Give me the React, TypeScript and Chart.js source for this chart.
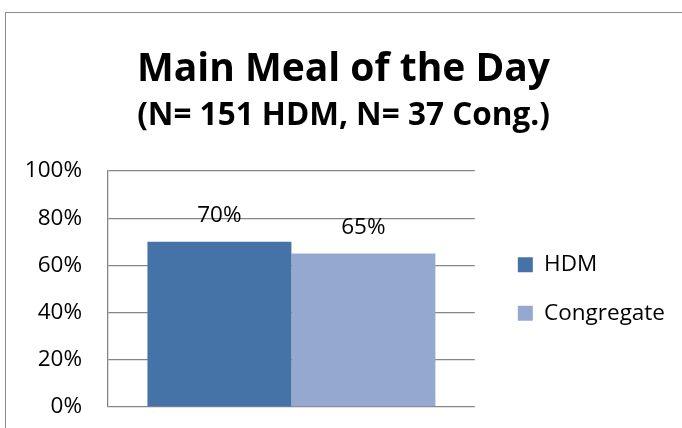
import React, { useEffect, useRef } from "react";
import { Chart, registerables } from "chart.js";

Chart.register(...registerables);

const categories = [""];
const seriesNames = ["HDM", "Congregate"];
const hdmValues = [0.70];
const congregateValues = [0.65];
const seriesColors = ["#4572A7", "#95A9D0"];
const yTicks = [0, 0.2, 0.4, 0.6, 0.8, 1.0];
const titleText = "Main Meal of the Day";
const subtitleText = "(N= 151 HDM, N= 37 Cong.)";

const FONT = "'Open Sans', 'Noto Sans', sans-serif";

const dataLabelPlugin = {
  id: "dataLabels",
  afterDatasetsDraw(chart: any) {
    const ctx = chart.ctx;
    ctx.save();
    ctx.font = `22.5px ${FONT}`;
    ctx.fillStyle = "#000";
    ctx.textAlign = "center";
    ctx.textBaseline = "middle";
    chart.data.datasets.forEach((ds: any, i: number) => {
      const meta = chart.getDatasetMeta(i);
      meta.data.forEach((bar: any, j: number) => {
        const v = ds.data[j];
        ctx.fillText(Math.round(v * 100) + "%", bar.x, bar.y - 26.5);
      });
    });
    ctx.restore();
  },
};

export default function App() {
  const ref = useRef<HTMLCanvasElement>(null);
  useEffect(() => {
    if (!ref.current) return;
    const chart = new Chart(ref.current, {
      type: "bar",
      data: {
        labels: categories,
        datasets: [
          { label: seriesNames[0], data: hdmValues, backgroundColor: seriesColors[0], borderWidth: 0 },
          { label: seriesNames[1], data: congregateValues, backgroundColor: seriesColors[1], borderWidth: 0 },
        ],
      },
      options: {
        animation: false,
        responsive: false,
        maintainAspectRatio: false,
        layout: { padding: { left: 12, right: 7, top: 0, bottom: 0 } },
        plugins: {
          title: {
            display: true,
            text: titleText,
            color: "#000",
            font: { family: FONT, size: 39, weight: "bold", lineHeight: 1.2 },
            padding: { top: 46, bottom: 0 },
          },
          subtitle: {
            display: true,
            text: subtitleText,
            color: "#000",
            font: { family: FONT, size: 31.5, weight: "bold", lineHeight: 1.2 },
            padding: { top: 4.5, bottom: 35.9 },
          },
          legend: {
            display: true,
            position: "right",
            fullSize: false,
            maxWidth: 400,
            labels: {
              color: "#000",
              font: { family: FONT, size: 22.5 },
              boxWidth: 15,
              boxHeight: 15,
              padding: 26,
            },
          },
          tooltip: { enabled: false },
        },
        scales: {
          x: {
            ticks: { display: false },
            grid: { display: false },
            border: { display: false },
            afterFit: (s: any) => { s.height = 21; },
          },
          y: {
            min: 0,
            max: 1,
            afterBuildTicks: (axis: any) => {
              axis.ticks = yTicks.map((v) => ({ value: v }));
            },
            ticks: {
              color: "#000",
              font: { family: FONT, size: 22.5 },
              padding: 26,
              callback: (v: any) => Math.round(Number(v) * 100) + "%",
            },
            grid: { color: "#868686", lineWidth: 1.3, drawTicks: false },
            border: { color: "#868686", width: 1.3 },
            afterFit: (s: any) => {
              s.width = 96;
              s.paddingTop = 0;
              s.paddingBottom = 0;
            },
          },
          yGap: {
            type: "linear",
            position: "right",
            display: true,
            ticks: { display: false },
            grid: { display: false, drawTicks: false },
            border: { display: false },
            afterFit: (s: any) => { s.width = 17; },
          },
        },
        datasets: { bar: { categoryPercentage: 0.785, barPercentage: 1 } },
      } as any,
      plugins: [dataLabelPlugin],
    });
    if ((document as any).fonts && (document as any).fonts.ready) {
      (document as any).fonts.ready.then(() => { try { chart.update(); } catch (e) {} });
    }
    return () => chart.destroy();
  }, []);

  return (
    <div style={{ position: "fixed", left: 0, top: 0, width: 682, height: 428, overflow: "hidden", background: "#fff" }}>
      <div style={{ position: "absolute", left: 5, top: 12, width: 720, height: 520, border: "1.5px solid #8c8c8c", boxSizing: "border-box" }} />
      <canvas ref={ref} width={682} height={428} style={{ position: "absolute", left: 0, top: 0, width: 682, height: 428 }} />
    </div>
  );
}
